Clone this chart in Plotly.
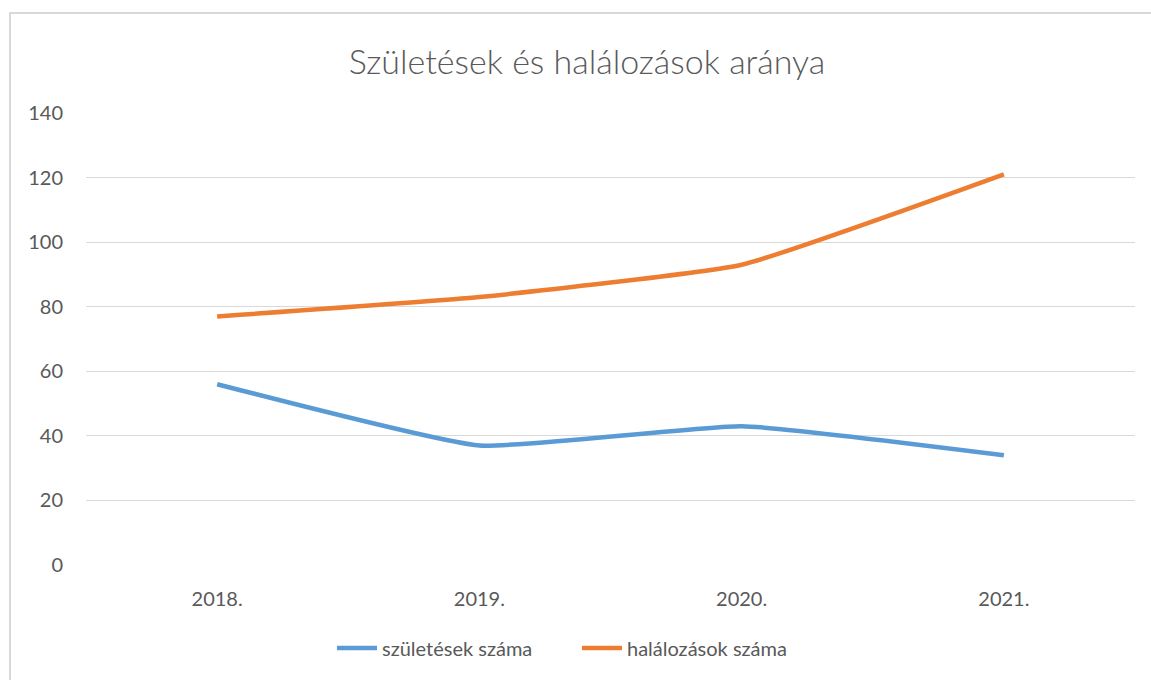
import plotly.graph_objects as go

years = ["2018.", "2019.", "2020.", "2021."]
births = [56, 37, 43, 34]
deaths = [77, 83, 93, 121]
y_ticks = [0, 20, 40, 60, 80, 100, 120, 140]

W, H = 1151, 680
L, T = 86, 113
pw, ph = 1049, 452
R, B = W - L - pw, H - T - ph


def px_x(x):  # window x -> paper fraction
    return (x - L) / pw


def px_y(y):  # window y -> paper fraction
    return (ph - (y - T)) / ph


fig = go.Figure()
fig.add_trace(go.Scatter(x=years, y=births, mode="lines", name="születések száma",
                         line=dict(color="#5B9BD5", width=4.5, shape="spline", smoothing=0.4)))
fig.add_trace(go.Scatter(x=years, y=deaths, mode="lines", name="halálozások száma",
                         line=dict(color="#ED7D31", width=4.5, shape="spline", smoothing=0.4)))

frame = dict(color="#D9D9D9", width=2)
font_fam = "Lato, Open Sans, sans-serif"
fig.update_layout(
    width=W, height=H,
    margin=dict(l=L, r=R, t=T, b=B),
    paper_bgcolor="white", plot_bgcolor="white",
    font=dict(family=font_fam, color="#595959", size=16),
    title=dict(text="Születések és halálozások aránya",
               xref="container", x=587 / W, xanchor="center",
               yref="container", y=1 - 62 / H, yanchor="middle",
               font=dict(size=34, color="#595959", family=font_fam, weight=300)),
    showlegend=True,
    legend=dict(orientation="h", x=px_x(577), xanchor="center",
                y=px_y(648), yanchor="middle",
                font=dict(size=20, color="#595959"), itemwidth=40,
                entrywidth=190, entrywidthmode="pixels",
                bgcolor="rgba(0,0,0,0)"),
    xaxis=dict(type="category", range=[-0.5, 3.5], showgrid=False, zeroline=False,
               showline=False, ticks="outside", ticklen=16, tickcolor="rgba(0,0,0,0)",
               tickfont=dict(size=20, color="#595959")),
    yaxis=dict(range=[0, 140], tickvals=y_ticks, showgrid=True, gridcolor="#D9D9D9",
               gridwidth=1, zeroline=False, showline=False, ticks="outside", ticklen=18,
               tickcolor="rgba(0,0,0,0)", tickfont=dict(size=20, color="#595959")),
    shapes=[
        dict(type="line", xref="paper", yref="paper",
             x0=px_x(10), x1=px_x(10), y0=px_y(12), y1=px_y(700), line=frame, layer="below"),
        dict(type="line", xref="paper", yref="paper",
             x0=px_x(9), x1=px_x(1200), y0=px_y(13), y1=px_y(13), line=frame, layer="below"),
    ],
)
fig.write_html("out.html", config={"displayModeBar": False},
               post_script="document.body.style.margin='0';document.body.style.overflow='hidden';")
